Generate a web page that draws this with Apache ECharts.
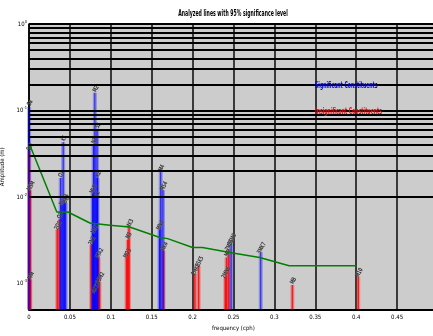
<!DOCTYPE html>
<html>
<head>
<meta charset="utf-8">
<script src="https://cdn.jsdelivr.net/npm/echarts@6/dist/echarts.min.js"></script>
<style>
  html, body { margin: 0; padding: 0; background: #fff; }
  #chart { width: 433px; height: 336px; }
</style>
</head>
<body>
<div id="chart"></div>
<script>
// significant constituents (blue)
var sigNames = ['Sa', 'O1', 'NO1', 'K1', 'J1', 'OO1', 'MU2', 'N2', 'NU2', 'M2', 'L2', 'S2', 'K2', 'MN4', 'M4', 'MS4', '2SM6', '3MK7'];
var sigFreq  = [0.000114, 0.0387, 0.0403, 0.0418, 0.0433, 0.0448, 0.0777, 0.0790, 0.0792, 0.0805, 0.0820, 0.0833, 0.0836, 0.1595, 0.1610, 0.1638, 0.2471, 0.2833];
var sigAmp   = [0.11, 0.0166, 0.0081, 0.043, 0.0093, 0.0085, 0.0111, 0.040, 0.0038, 0.16, 0.0098, 0.060, 0.0166, 0.0042, 0.0194, 0.0120, 0.0029, 0.0023];

// insignificant constituents (red)
var insNames = ['Ssa', 'MSM', 'MM', '2Q1', 'Q1', '2N2', 'MKS2', 'ETA2', '2SM2', 'MO3', 'M3', 'MK3', 'MK4', '2MK5', '2SK5', '2MN6', 'M6', '2MS6', 'M8', 'M10'];
var insFreq  = [0.000228, 0.00131, 0.00151, 0.0345, 0.0372, 0.0760, 0.0807, 0.0851, 0.0861, 0.1192, 0.1208, 0.1223, 0.1644, 0.2028, 0.2074, 0.2400, 0.2415, 0.2441, 0.3220, 0.4025];
var insAmp   = [0.034, 0.012, 0.0011, 0.0042, 0.0055, 0.0028, 0.0008, 0.0020, 0.00104, 0.0020, 0.0032, 0.0044, 0.0024, 0.0013, 0.0016, 0.0012, 0.0020, 0.0025, 0.00096, 0.0012];

// 95% significance level
var thrFreq = [0, 0.034, 0.0476, 0.0744, 0.0988, 0.123, 0.160, 0.1695, 0.200, 0.212, 0.249, 0.282, 0.318, 0.401];
var thrAmp  = [0.042, 0.0067, 0.0067, 0.0050, 0.0047, 0.0045, 0.0034, 0.0033, 0.0026, 0.0026, 0.00225, 0.0020, 0.0016, 0.0016];

// horizontal grid lines of the log axis
var yGrid = [0.0006, 0.0007, 0.0008, 0.0009,
             0.001, 0.002, 0.003, 0.004, 0.005, 0.006, 0.007, 0.008, 0.009,
             0.01, 0.02, 0.03, 0.04, 0.05, 0.06, 0.07, 0.08, 0.09,
             0.1, 0.2, 0.3, 0.4, 0.5, 0.6, 0.7, 0.8, 0.9, 1];

var yMin = 0.0005, yMax = 1;
var FONT = "'Liberation Sans Narrow', 'DejaVu Sans Condensed', sans-serif";

function pairs(xs, ys, names) {
    return xs.map(function (x, i) { return names ? [x, ys[i], names[i]] : [x, ys[i]]; });
}

function stem(color, lw) {
    return function (params, api) {
        var top = api.coord([api.value(0), api.value(1)]);
        var bot = api.coord([api.value(0), yMin]);
        return {
            type: 'group',
            children: [
                { type: 'rect', shape: { x: top[0] - 2, y: top[1], width: 4, height: bot[1] - top[1] },
                  style: { fill: color, opacity: 0.3 } },
                { type: 'line', shape: { x1: top[0], y1: top[1], x2: top[0], y2: bot[1] },
                  style: { stroke: color, lineWidth: lw, opacity: 0.8 } },
                { type: 'text', x: top[0] + 1, y: top[1] - 4, rotation: Math.PI * 62 / 180,
                  scaleX: 0.8, z2: 10,
                  style: { text: api.value(2), fontSize: 6, fontFamily: FONT, fill: '#222',
                           stroke: '#888', lineWidth: 0.4, align: 'center', verticalAlign: 'middle' } }
            ]
        };
    };
}

var myChart = echarts.init(document.getElementById('chart'));
var option = {
    animation: false,
    backgroundColor: '#fff',
    grid: { left: 29, right: -5, top: 24, bottom: 26.5, outerBoundsMode: 'none', containLabel: false,
            show: true, backgroundColor: '#cccccc', borderWidth: 0 },
    graphic: [
        { type: 'text', x: 233, y: 14, scaleX: 0.64, z: 100,
          style: { text: 'Analyzed lines with 95% significance level', fontSize: 8, fontWeight: 'bold', fontFamily: FONT,
                   fill: '#000', align: 'center', verticalAlign: 'middle' } },
        { type: 'text', x: 315, y: 86, scaleX: 0.64, z: 100,
          style: { text: 'Significant Constituents', fontSize: 8, fontWeight: 'bold', fontFamily: FONT,
                   fill: '#0000ff', verticalAlign: 'middle' } },
        { type: 'text', x: 315, y: 112, scaleX: 0.64, z: 100,
          style: { text: 'Insignificant Constituents', fontSize: 8, fontWeight: 'bold', fontFamily: FONT,
                   fill: '#ff0000', verticalAlign: 'middle' } }
    ],
    xAxis: {
        type: 'value', min: 0, max: 0.5, interval: 0.05,
        name: 'frequency (cph)', nameLocation: 'middle', nameGap: 16,
        nameTextStyle: { fontSize: 6, fontFamily: FONT, color: '#000' },
        axisLine: { show: true, lineStyle: { color: '#000', width: 2 } },
        axisTick: { show: false },
        axisLabel: { fontSize: 6, fontFamily: FONT, color: '#000', margin: 5 },
        splitLine: { show: true, lineStyle: { color: '#3a3a3a', width: 2 } }
    },
    yAxis: {
        type: 'log', logBase: 10, min: yMin, max: yMax,
        name: 'Amplitude (m)', nameLocation: 'middle', nameGap: 16, nameRotate: 90,
        nameTextStyle: { fontSize: 6, fontFamily: FONT, color: '#000' },
        axisLine: { show: true, lineStyle: { color: '#000', width: 1.5 } },
        axisTick: { show: false },
        splitLine: { show: false },
        axisLabel: {
            margin: 2, fontFamily: FONT, color: '#000',
            formatter: function (v) {
                var l = Math.log10(v), e = Math.round(l);
                if (Math.abs(l - e) > 1e-6) return '';
                return '{b|10}{s|' + e + '}';
            },
            rich: {
                b: { fontSize: 6, fontFamily: FONT, color: '#000' },
                s: { fontSize: 4, fontFamily: FONT, color: '#000', padding: [0, 0, 5, 0] }
            }
        }
    },
    series: [
        {
            type: 'custom', name: 'Insignificant Constituents', z: 2,
            renderItem: stem('#ff0000', 1.5),
            encode: { x: 0, y: 1 },
            data: pairs(insFreq, insAmp, insNames)
        },
        {
            type: 'custom', name: 'Significant Constituents', z: 2,
            renderItem: stem('#0000ff', 1),
            encode: { x: 0, y: 1 },
            data: pairs(sigFreq, sigAmp, sigNames)
        },
        {
            type: 'line', z: 3, silent: true,
            data: [],
            markLine: {
                silent: true, symbol: 'none', label: { show: false },
                lineStyle: { color: '#000', width: 2, type: 'solid' },
                data: yGrid.map(function (v) { return { yAxis: v }; })
            }
        },
        {
            type: 'line', name: '95% significance', z: 4,
            showSymbol: false, symbol: 'none',
            lineStyle: { color: '#008000', width: 1.5 },
            data: pairs(thrFreq, thrAmp)
        }
    ]
};
myChart.setOption(option);
</script>
</body>
</html>
